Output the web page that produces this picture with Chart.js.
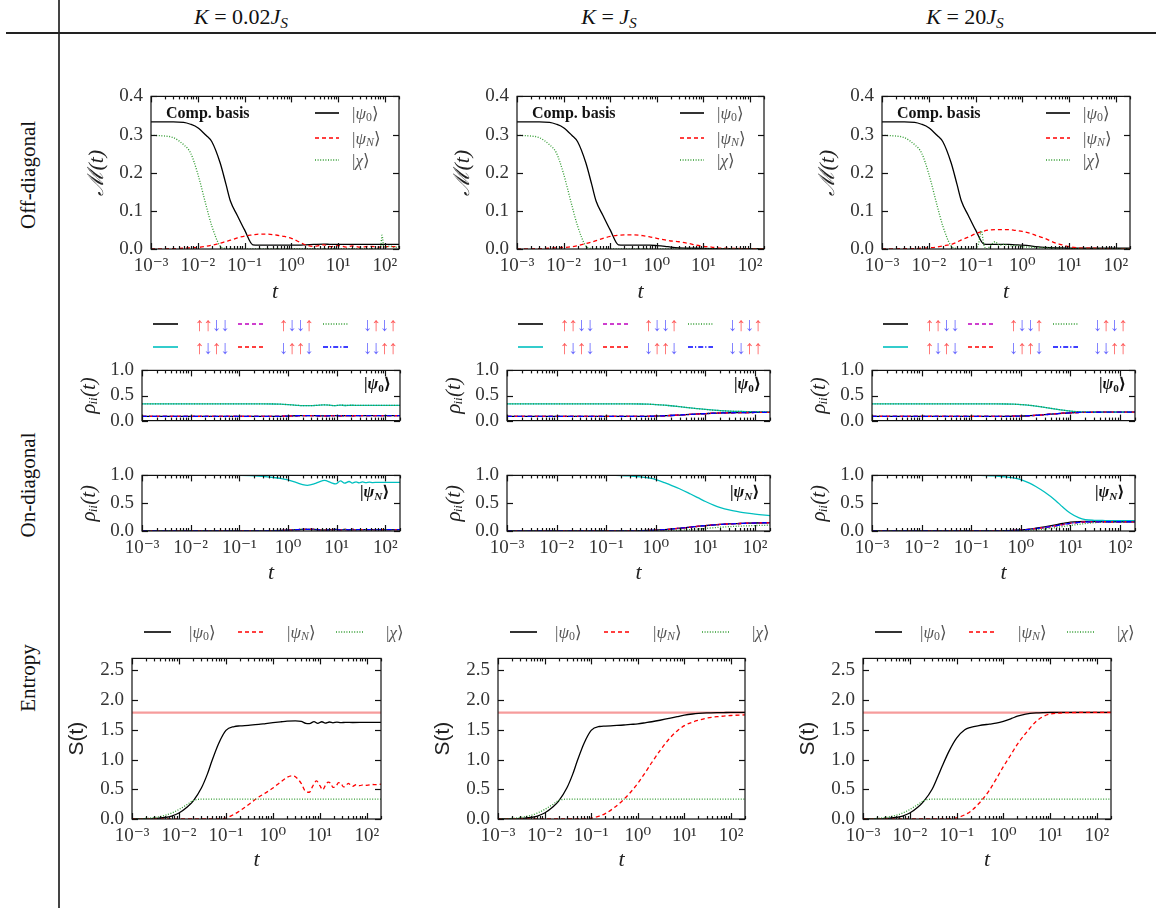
<!DOCTYPE html>
<html>
<head>
<meta charset="utf-8">
<title>Four-spin decoherence</title>
<script src="https://cdn.jsdelivr.net/npm/chart.js@4.4.1/dist/chart.umd.min.js"></script>
<style>
  body { margin: 0; background: #fff; }
  #fig { position: relative; width: 1156px; height: 908px; overflow: hidden;
         font-family: "Liberation Serif", "DejaVu Serif", serif; color: #111; }
  #fig canvas { position: absolute; }
  .txt { position: absolute; white-space: nowrap; transform: translateY(-50%); line-height: 1; }
  .head { font-size: 22px; transform: translate(-50%, -50%); }
  .row { font-size: 21px; transform: translate(-50%, -50%) rotate(-90deg); }
  .key { font-size: 17px; color: #555; }
  .tag { font-size: 16px; font-weight: bold; }
  .spin { font-size: 19px; letter-spacing: -1px; }
  .up { color: rgba(255, 40, 40, 0.75); }
  .dn { color: rgba(40, 40, 255, 0.7); }
  sub { font-size: 0.7em; vertical-align: -0.25em; line-height: 0; }
  .swatch { position: absolute; transform: translateY(-50%); }
  .rule { position: absolute; background: #222; }
</style>
</head>
<body>
<div id="fig">
  <div class="rule" style="left:58px;top:0;width:1.5px;height:908px;background:#444"></div>
  <div class="rule" style="left:6px;top:32px;width:1150px;height:1.5px"></div>
  <div class="txt head" style="left:241px;top:17px"><i>K</i> = 0.02<i>J</i><sub><i>S</i></sub></div>
  <div class="txt head" style="left:609px;top:17px"><i>K</i> = <i>J</i><sub><i>S</i></sub></div>
  <div class="txt head" style="left:965px;top:17px"><i>K</i> = 20<i>J</i><sub><i>S</i></sub></div>
  <div class="txt row" style="left:28px;top:175px">Off-diagonal</div>
  <div class="txt row" style="left:28px;top:485px">On-diagonal</div>
  <div class="txt row" style="left:28px;top:678px">Entropy</div>
</div>
<script>
const SERIF = '"Liberation Serif", "DejaVu Serif", serif';
const SANS = '"Liberation Sans", "DejaVu Sans", sans-serif';

// x axis: decades get labels, 2..9 get minor marks
const DECADES = [0.001, 0.01, 0.1, 1, 10, 100];
const MINOR = [2, 3, 4, 5, 6, 7, 8, 9];
const T_MIN = 0.001, T_MAX = 200;

// common time grid for the smooth curves
const T = [0.001, 0.002, 0.003, 0.005, 0.007, 0.01, 0.015, 0.02, 0.03, 0.04, 0.05, 0.07, 0.1, 0.15, 0.2, 0.3,
           0.5, 0.7, 1, 1.5, 2, 3, 5, 7, 10, 15, 20, 30, 50, 70, 100, 200];

// ---- off-diagonal weight M(t) ----
const mPsi0A = [0.333, 0.333, 0.333, 0.332, 0.327, 0.318, 0.298, 0.281, 0.226, 0.170, 0.125, 0.088, 0.050, 0.011, 0.010, 0.010,
                0.010, 0.010, 0.010, 0.010, 0.011, 0.012, 0.013, 0.012, 0.012, 0.012, 0.012, 0.012, 0.012, 0.012, 0.012, 0.012];
const mPsiNA = [0, 0.0005, 0.001, 0.002, 0.003, 0.004, 0.007, 0.010, 0.015, 0.020, 0.023, 0.029, 0.034, 0.037, 0.039, 0.039,
                0.036, 0.033, 0.028, 0.018, 0.011, 0.007, 0.011, 0.006, 0.009, 0.005, 0.008, 0.005, 0.007, 0.005, 0.006, 0.006];
const tChiA = [0.001, 0.002, 0.003, 0.005, 0.007, 0.01, 0.015, 0.02, 0.03, 0.04, 0.05, 0.1, 1, 10, 60, 80, 87, 95, 130, 160, 200];
const mChiA = [0.298, 0.296, 0.292, 0.273, 0.252, 0.197, 0.115, 0.060, 0.008, 0.001, 0, 0, 0.001, 0.001, 0.001, 0.002, 0.036, 0.003, 0.008, 0.004, 0.006];

const mPsi0B = [0.333, 0.333, 0.333, 0.332, 0.327, 0.318, 0.298, 0.281, 0.226, 0.170, 0.125, 0.088, 0.050, 0.011, 0.010, 0.010,
                0.010, 0.010, 0.009, 0.007, 0.005, 0.003, 0.002, 0.002, 0.0015, 0.001, 0.001, 0.001, 0.001, 0.001, 0.001, 0.001];
const mPsiNB = [0, 0.0005, 0.001, 0.002, 0.003, 0.004, 0.006, 0.009, 0.014, 0.018, 0.022, 0.028, 0.033, 0.036, 0.037, 0.037,
                0.035, 0.032, 0.028, 0.024, 0.021, 0.019, 0.014, 0.010, 0.007, 0.005, 0.003, 0.002, 0.0015, 0.001, 0.001, 0.001];
const mChiB = [0.298, 0.296, 0.292, 0.273, 0.252, 0.197, 0.115, 0.060, 0.008, 0.001, 0, 0, 0, 0, 0, 0,
               0, 0, 0, 0, 0, 0, 0, 0, 0, 0, 0, 0, 0, 0, 0, 0];

const mPsi0C = [0.333, 0.333, 0.333, 0.332, 0.327, 0.318, 0.298, 0.281, 0.226, 0.170, 0.125, 0.088, 0.050, 0.013, 0.012, 0.012,
                0.012, 0.011, 0.010, 0.008, 0.006, 0.004, 0.003, 0.003, 0.002, 0.002, 0.002, 0.002, 0.002, 0.002, 0.002, 0.002];
const mPsiNC = [0, 0.0005, 0.001, 0.001, 0.002, 0.003, 0.005, 0.008, 0.012, 0.018, 0.024, 0.031, 0.040, 0.047, 0.050, 0.051,
                0.051, 0.049, 0.046, 0.041, 0.035, 0.028, 0.016, 0.011, 0.006, 0.003, 0.002, 0.002, 0.001, 0.001, 0.001, 0.001];
const tChiC = [0.001, 0.002, 0.003, 0.005, 0.007, 0.01, 0.015, 0.02, 0.03, 0.04, 0.05, 0.1, 0.115, 0.133, 0.15, 0.17,
               0.2, 0.26, 0.32, 0.4, 0.55, 0.7, 1, 2, 3, 5, 10, 200];
const mChiC = [0.298, 0.296, 0.292, 0.273, 0.252, 0.197, 0.115, 0.060, 0.008, 0.001, 0, 0, 0.012, 0.048, 0.012, 0,
               0.006, 0.019, 0.010, 0.012, 0.008, 0.009, 0.006, 0.004, 0.003, 0.002, 0.001, 0.001];

// ---- populations rho_ii(t), starting from |psi_0> ----
const tR0A = [0.001, 0.01, 0.1, 0.3, 0.5, 0.7, 1, 1.5, 2, 3, 4, 5.5, 7, 9, 12, 15, 20, 30, 50, 100, 200];
const r0NeelA = [0.333, 0.333, 0.333, 0.333, 0.331, 0.327, 0.318, 0.305, 0.298, 0.297, 0.305, 0.313, 0.308, 0.297, 0.310, 0.301,
                 0.306, 0.302, 0.304, 0.303, 0.303];
const r0RestA = [0.083, 0.083, 0.083, 0.083, 0.084, 0.086, 0.091, 0.097, 0.101, 0.101, 0.097, 0.094, 0.096, 0.101, 0.095, 0.099,
                 0.097, 0.099, 0.098, 0.098, 0.098];
const r0NeelB = [0.333, 0.333, 0.333, 0.333, 0.333, 0.333, 0.333, 0.333, 0.333, 0.333, 0.333, 0.333, 0.333, 0.333, 0.333, 0.333,
                 0.331, 0.327, 0.320, 0.307, 0.296, 0.278, 0.252, 0.237, 0.222, 0.207, 0.198, 0.189, 0.182, 0.179, 0.177, 0.175];
const r0RestB = [0.083, 0.083, 0.083, 0.083, 0.083, 0.083, 0.083, 0.083, 0.083, 0.083, 0.083, 0.083, 0.083, 0.083, 0.083, 0.083,
                 0.084, 0.086, 0.090, 0.097, 0.102, 0.111, 0.124, 0.132, 0.139, 0.147, 0.151, 0.156, 0.159, 0.161, 0.162, 0.163];
const r0NeelC = [0.333, 0.333, 0.333, 0.333, 0.333, 0.333, 0.333, 0.333, 0.333, 0.333, 0.333, 0.333, 0.333, 0.333, 0.333, 0.333,
                 0.331, 0.327, 0.320, 0.305, 0.290, 0.265, 0.230, 0.208, 0.190, 0.176, 0.171, 0.168, 0.167, 0.167, 0.167, 0.167];
const r0RestC = [0.083, 0.083, 0.083, 0.083, 0.083, 0.083, 0.083, 0.083, 0.083, 0.083, 0.083, 0.083, 0.083, 0.083, 0.083, 0.083,
                 0.085, 0.087, 0.090, 0.098, 0.105, 0.118, 0.135, 0.146, 0.155, 0.162, 0.165, 0.166, 0.167, 0.167, 0.167, 0.167];

// ---- populations rho_ii(t), starting from |psi_N> ----
const tRNA = [0.001, 0.01, 0.1, 0.2, 0.3, 0.5, 0.7, 1, 1.5, 2, 2.5, 3.5, 4.5, 5.6, 7.6, 9.5, 12, 14.5, 18, 21, 25, 29, 34, 40, 47,
              55, 70, 100, 200];
const rNNeelA = [1, 1, 1, 0.992, 0.982, 0.962, 0.945, 0.920, 0.870, 0.835, 0.822, 0.850, 0.890, 0.910, 0.870, 0.846, 0.900, 0.860,
                 0.890, 0.862, 0.885, 0.866, 0.882, 0.869, 0.879, 0.871, 0.876, 0.874, 0.874];
const rNRestA = [0, 0, 0, 0.001, 0.003, 0.006, 0.009, 0.014, 0.023, 0.029, 0.031, 0.027, 0.020, 0.017, 0.024, 0.029, 0.019, 0.027,
                 0.021, 0.027, 0.022, 0.026, 0.023, 0.025, 0.024, 0.025, 0.024, 0.025, 0.025];
const rNNeelB = [1, 1, 1, 1, 1, 1, 1, 1, 1, 1, 1, 1, 1, 0.999, 0.997, 0.990,
                 0.975, 0.955, 0.925, 0.870, 0.825, 0.760, 0.665, 0.600, 0.530, 0.460, 0.420, 0.378, 0.340, 0.320, 0.302, 0.277];
const rNRestB = [0, 0, 0, 0, 0, 0, 0, 0, 0, 0, 0, 0, 0, 0, 0.001, 0.002,
                 0.005, 0.009, 0.015, 0.026, 0.035, 0.050, 0.070, 0.085, 0.098, 0.110, 0.118, 0.127, 0.135, 0.140, 0.144, 0.150];
const rNFlipB = [0, 0, 0, 0, 0, 0, 0, 0, 0, 0, 0, 0, 0, 0, 0, 0,
                 0, 0.001, 0.002, 0.005, 0.008, 0.014, 0.025, 0.035, 0.046, 0.060, 0.068, 0.078, 0.088, 0.093, 0.098, 0.105];
const rNNeelC = [1, 1, 1, 1, 1, 1, 1, 1, 1, 1, 1, 1, 1, 0.999, 0.997, 0.990,
                 0.975, 0.955, 0.925, 0.860, 0.800, 0.700, 0.550, 0.430, 0.320, 0.235, 0.205, 0.192, 0.188, 0.187, 0.187, 0.187];
const rNRestC = [0, 0, 0, 0, 0, 0, 0, 0, 0, 0, 0, 0, 0, 0, 0.001, 0.002,
                 0.005, 0.009, 0.016, 0.030, 0.042, 0.062, 0.093, 0.116, 0.138, 0.155, 0.162, 0.165, 0.166, 0.166, 0.166, 0.166];
const rNPairC = [0, 0, 0, 0, 0, 0, 0, 0, 0, 0, 0, 0, 0, 0, 0.001, 0.002,
                 0.006, 0.010, 0.018, 0.034, 0.050, 0.075, 0.110, 0.135, 0.158, 0.170, 0.172, 0.169, 0.167, 0.166, 0.166, 0.166];
const rNFlipC = [0, 0, 0, 0, 0, 0, 0, 0, 0, 0, 0, 0, 0, 0, 0, 0,
                 0, 0.002, 0.005, 0.012, 0.020, 0.035, 0.060, 0.080, 0.100, 0.120, 0.135, 0.150, 0.160, 0.163, 0.165, 0.166];

// ---- entanglement entropy S(t) ----
const S_MAX = 1.79;
const tSA = [0.001, 0.002, 0.003, 0.005, 0.007, 0.01, 0.015, 0.02, 0.03, 0.04, 0.05, 0.07, 0.1, 0.15, 0.2, 0.3, 0.5, 0.7, 1, 1.5,
             2, 3, 4, 5, 6, 7.5, 9, 11, 13, 16, 19, 23, 28, 35, 50, 100, 200];
const sPsi0A = [0, 0.003, 0.008, 0.025, 0.05, 0.10, 0.20, 0.30, 0.52, 0.75, 0.97, 1.27, 1.49, 1.555, 1.565, 1.575, 1.59, 1.605,
                1.62, 1.635, 1.645, 1.65, 1.64, 1.608, 1.603, 1.637, 1.608, 1.635, 1.613, 1.631, 1.617, 1.628, 1.619, 1.626,
                1.622, 1.624, 1.624];
const tSNA = [0.001, 0.05, 0.07, 0.1, 0.15, 0.2, 0.3, 0.5, 0.7, 1, 1.5, 2, 2.5, 3, 4, 5, 6, 7, 8.5, 10, 11.5, 13, 15, 17, 19,
              22, 25, 28, 32, 36, 40, 45, 50, 60, 70, 85, 100, 130, 160, 200];
const sPsiNA = [0, 0, 0.002, 0.015, 0.08, 0.14, 0.24, 0.37, 0.44, 0.52, 0.63, 0.70, 0.725, 0.71, 0.60, 0.46, 0.45, 0.55, 0.64,
                0.56, 0.49, 0.56, 0.62, 0.60, 0.53, 0.55, 0.61, 0.60, 0.54, 0.56, 0.60, 0.57, 0.55, 0.58, 0.56, 0.575, 0.565,
                0.58, 0.578, 0.585];
const tSChi = [0.001, 0.002, 0.003, 0.005, 0.007, 0.01, 0.015, 0.02, 0.025, 0.03, 0.05, 200];
const sChi = [0, 0.01, 0.025, 0.06, 0.10, 0.16, 0.245, 0.31, 0.33, 0.333, 0.333, 0.333];
const sPsi0B = [0, 0.003, 0.008, 0.025, 0.05, 0.10, 0.20, 0.30, 0.52, 0.75, 0.97, 1.27, 1.49, 1.555, 1.562, 1.57,
                1.58, 1.59, 1.60, 1.62, 1.635, 1.66, 1.695, 1.72, 1.745, 1.765, 1.775, 1.784, 1.789, 1.79, 1.791, 1.791];
const sPsiNB = [0, 0, 0, 0, 0, 0, 0, 0, 0, 0, 0, 0.002, 0.015, 0.05, 0.09, 0.18,
                0.33, 0.45, 0.60, 0.80, 0.95, 1.15, 1.37, 1.48, 1.57, 1.63, 1.66, 1.695, 1.72, 1.73, 1.74, 1.75];
const sPsi0C = [0, 0.003, 0.008, 0.025, 0.05, 0.10, 0.20, 0.30, 0.50, 0.72, 0.90, 1.15, 1.36, 1.50, 1.54, 1.57,
                1.595, 1.61, 1.64, 1.69, 1.73, 1.765, 1.785, 1.79, 1.791, 1.791, 1.791, 1.791, 1.791, 1.791, 1.791, 1.791];
const sPsiNC = [0, 0, 0, 0, 0, 0, 0, 0, 0, 0, 0, 0.003, 0.02, 0.07, 0.13, 0.26,
                0.48, 0.67, 0.88, 1.10, 1.26, 1.44, 1.64, 1.72, 1.765, 1.78, 1.787, 1.79, 1.791, 1.791, 1.791, 1.791];

// line styles, one per basis state / initial state
const STY = {
  k: { borderColor: "#000000" },
  c: { borderColor: "#00bfbf" },
  m: { borderColor: "#bf00bf", borderDash: [4, 3] },
  r: { borderColor: "#ff0000", borderDash: [4, 3] },
  g: { borderColor: "#2e9a2e", borderDash: [1, 1.6] },
  b: { borderColor: "#0000ff", borderDash: [5, 2, 1.2, 2] },
  lim: { borderColor: "rgba(240, 90, 90, 0.6)", borderWidth: 2.2 },
};
const SPINS = { k: "uudd", c: "udud", m: "uddu", r: "duud", g: "dudu", b: "dduu" };

const ds = (key, ts, ys, i) => ({
  data: ts.map((t, j) => ({ x: t, y: ys[j] })),
  borderWidth: 1.3, order: -i, ...STY[key],
});
const group = (list) => list.map(([key, ts, ys], i) => ds(key, ts, ys, i));

const offDiag = [
  group([["k", T, mPsi0A], ["r", T, mPsiNA], ["g", tChiA, mChiA]]),
  group([["k", T, mPsi0B], ["r", T, mPsiNB], ["g", T, mChiB]]),
  group([["k", T, mPsi0C], ["r", T, mPsiNC], ["g", tChiC, mChiC]]),
];
const popPsi0 = [
  group([["k", tR0A, r0RestA], ["c", tR0A, r0NeelA], ["m", tR0A, r0RestA], ["r", tR0A, r0RestA], ["g", tR0A, r0NeelA], ["b", tR0A, r0RestA]]),
  group([["k", T, r0RestB], ["c", T, r0NeelB], ["m", T, r0RestB], ["r", T, r0RestB], ["g", T, r0NeelB], ["b", T, r0RestB]]),
  group([["k", T, r0RestC], ["c", T, r0NeelC], ["m", T, r0RestC], ["r", T, r0RestC], ["g", T, r0NeelC], ["b", T, r0RestC]]),
];
const popPsiN = [
  group([["k", tRNA, rNRestA], ["c", tRNA, rNNeelA], ["m", tRNA, rNRestA], ["r", tRNA, rNRestA], ["g", tRNA, rNRestA], ["b", tRNA, rNRestA]]),
  group([["k", T, rNRestB], ["c", T, rNNeelB], ["m", T, rNRestB], ["r", T, rNRestB], ["g", T, rNFlipB], ["b", T, rNRestB]]),
  group([["k", T, rNPairC], ["c", T, rNNeelC], ["m", T, rNRestC], ["r", T, rNRestC], ["g", T, rNFlipC], ["b", T, rNRestC]]),
];
const entropy = [
  group([["lim", [T_MIN, T_MAX], [S_MAX, S_MAX]], ["k", tSA, sPsi0A], ["r", tSNA, sPsiNA], ["g", tSChi, sChi]]),
  group([["lim", [T_MIN, T_MAX], [S_MAX, S_MAX]], ["k", T, sPsi0B], ["r", T, sPsiNB], ["g", tSChi, sChi]]),
  group([["lim", [T_MIN, T_MAX], [S_MAX, S_MAX]], ["k", T, sPsi0C], ["r", T, sPsiNC], ["g", tSChi, sChi]]),
];

// plot boxes on the page
const M_ROW = { t: 91, b: 249, lr: [[151, 399], [517, 764], [882, 1130]] };
const R0_ROW = { t: 365, b: 426, lr: [[142, 400], [507, 770], [872, 1135]] };
const RN_ROW = { t: 470, b: 531, lr: R0_ROW.lr };
const S_ROW = { t: 653, b: 819, lr: [[132, 381], [498, 745], [863, 1111]] };

const M_AXIS = { max: 0.4, ticks: [0, 0.1, 0.2, 0.3, 0.4], title: "ℳ(t)",
                 font: { family: SERIF, size: 22, style: "italic" }, pad: 3, xAxis: true, xPad: 1 };
const R0_AXIS = { max: 1, ticks: [0, 0.5, 1], title: "ρᵢᵢ(t)",
                  font: { family: SERIF, size: 21, style: "italic" }, pad: 5, xAxis: false };
const RN_AXIS = { ...R0_AXIS, xAxis: true, xPad: 2 };
const S_AXIS = { max: 2.7, ticks: [0, 0.5, 1, 1.5, 2, 2.5], title: "S(t)",
                 font: { family: SANS, size: 21 }, pad: 3, xAxis: true, xPad: 3 };

const Y_W = 70, PAD = 14, X_H = 57;
const SUP = { "-": "⁻", "0": "⁰", "1": "¹", "2": "²", "3": "³" };
const decadeLabel = (v) => "10" + String(Math.round(Math.log10(v))).split("").map((c) => SUP[c]).join("");

// box frame with inward ticks on all four sides
const framePlugin = {
  id: "frame",
  afterDatasetsDraw(chart) {
    const { ctx, chartArea: a, scales: { x, y } } = chart;
    ctx.save();
    ctx.strokeStyle = "#111";
    ctx.lineWidth = 1.2;
    const seg = (x1, y1, x2, y2) => { ctx.beginPath(); ctx.moveTo(x1, y1); ctx.lineTo(x2, y2); ctx.stroke(); };
    for (const d of DECADES) {
      for (const k of [1, ...MINOR]) {
        const v = d * k;
        if (v < T_MIN || v > T_MAX) continue;
        const px = Math.round(x.getPixelForValue(v)) + 0.5;
        const len = k === 1 ? 6 : 3;
        seg(px, a.bottom, px, a.bottom - len);
        seg(px, a.top, px, a.top + len);
      }
    }
    for (const t of y.ticks) {
      const py = Math.round(y.getPixelForValue(t.value)) + 0.5;
      seg(a.left, py, a.left + 6, py);
      seg(a.right, py, a.right - 6, py);
    }
    ctx.strokeRect(a.left, a.top, a.right - a.left, a.bottom - a.top);
    ctx.restore();
  },
};

const fig = document.getElementById("fig");

function makeChart(row, col, axis, datasets) {
  const [L, R] = row.lr[col];
  const xH = axis.xAxis ? X_H : 0;
  const cv = document.createElement("canvas");
  cv.width = R - L + Y_W + PAD;
  cv.height = row.b - row.t + PAD + xH + PAD;
  cv.style.left = L - Y_W + "px";
  cv.style.top = row.t - PAD + "px";
  fig.appendChild(cv);
  new Chart(cv, {
    type: "line",
    data: { datasets },
    options: {
      responsive: false,
      animation: false,
      events: [],
      layout: { padding: { top: PAD, right: PAD, bottom: PAD, left: 0 } },
      plugins: { legend: { display: false }, tooltip: { enabled: false } },
      elements: { point: { radius: 0 }, line: { cubicInterpolationMode: "monotone", fill: false } },
      scales: {
        x: {
          type: "logarithmic", min: T_MIN, max: T_MAX,
          grid: { display: false, drawTicks: false }, border: { display: false },
          afterBuildTicks: (s) => { s.ticks = DECADES.map((v) => ({ value: v })); },
          afterFit: (s) => { s.height = xH; },
          ticks: { display: axis.xAxis, autoSkip: false, maxRotation: 0, padding: 6, color: "#333",
                   font: { family: SERIF, size: 19 }, callback: (v) => decadeLabel(v) },
          title: { display: axis.xAxis, text: "t", color: "#222",
                   font: { family: SERIF, size: 22, style: "italic" }, padding: { top: 0, bottom: axis.xPad || 0 } },
        },
        y: {
          min: 0, max: axis.max,
          grid: { display: false, drawTicks: false }, border: { display: false },
          afterBuildTicks: (s) => { s.ticks = axis.ticks.map((v) => ({ value: v })); },
          afterFit: (s) => { s.width = Y_W; },
          ticks: { padding: 8, color: "#333", font: { family: SERIF, size: 19 }, callback: (v) => v.toFixed(1) },
          title: { display: true, text: axis.title, color: "#222", font: axis.font,
                   padding: { top: axis.pad, bottom: axis.pad } },
        },
      },
    },
    plugins: [framePlugin],
  });
}

for (let c = 0; c < 3; c++) {
  makeChart(M_ROW, c, M_AXIS, offDiag[c]);
  makeChart(R0_ROW, c, R0_AXIS, popPsi0[c]);
  makeChart(RN_ROW, c, RN_AXIS, popPsiN[c]);
  makeChart(S_ROW, c, S_AXIS, entropy[c]);
}

// ---- text overlays and keys ----
const KET0 = "|<i>ψ</i><sub>0</sub>⟩";
const KETN = "|<i>ψ</i><sub><i>N</i></sub>⟩";
const KETX = "|<i>χ</i>⟩";

function put(html, cls, x, y) {
  const el = document.createElement("div");
  el.className = "txt " + cls;
  el.style.left = x + "px";
  el.style.top = y + "px";
  el.innerHTML = html;
  fig.appendChild(el);
}
function swatch(key, x, y, w) {
  const s = STY[key];
  const dash = s.borderDash ? `stroke-dasharray="${s.borderDash.join(" ")}"` : "";
  fig.insertAdjacentHTML("beforeend",
    `<svg class="swatch" style="left:${x}px;top:${y}px" width="${w}" height="6">` +
    `<line x1="0" y1="3" x2="${w}" y2="3" stroke="${s.borderColor}" stroke-width="1.6" ${dash}/></svg>`);
}
const arrows = (s) => s.split("").map((ch) => ch === "u" ? '<span class="up">↑</span>' : '<span class="dn">↓</span>').join("");

for (let c = 0; c < 3; c++) {
  // off-diagonal panel
  const [mL, mR] = M_ROW.lr[c];
  const t = M_ROW.t;
  put("Comp. basis", "tag", mL + 15, t + 22);
  [["k", KET0, 22], ["r", KETN, 47], ["g", KETX, 69]].forEach(([key, label, dy]) => {
    swatch(key, mR - 84, t + dy, 24);
    put(label, "key", mR - 47, t + dy);
  });

  // population key above the two population panels
  const [pL, pR] = R0_ROW.lr[c];
  [["k", "c"], ["m", "r"], ["g", "b"]].forEach((pair, j) => {
    pair.forEach((key, i) => {
      const y = 324 + i * 23;
      swatch(key, pL + 11 + j * 85, y, 25);
      put(arrows(SPINS[key]), "spin", pL + 53 + j * 84, y);
    });
  });
  put("|<i>ψ</i><sub>0</sub>⟩", "tag", pR - 36, R0_ROW.t + 19);
  put("|<i>ψ</i><sub><i>N</i></sub>⟩", "tag", pR - 40, RN_ROW.t + 22);

  // entropy key
  const [sL] = S_ROW.lr[c];
  [["k", KET0, 12, 57], ["r", KETN, 106, 155], ["g", KETX, 204, 254]].forEach(([key, label, sx, tx]) => {
    swatch(key, sL + sx, 632, 27);
    put(label, "key", sL + tx, 632);
  });
}
</script>
</body>
</html>
